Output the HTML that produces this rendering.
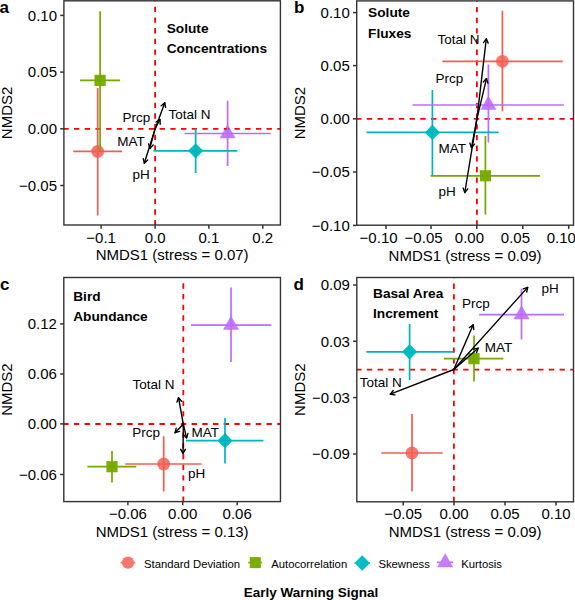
<!DOCTYPE html>
<html><head><meta charset="utf-8"><style>
html,body{margin:0;padding:0;background:#fff;}
body{width:575px;height:600px;overflow:hidden;}
svg{display:block;font-family:"Liberation Sans",sans-serif;}
text{fill:#000;}
</style></head><body>
<svg width="575" height="600" viewBox="0 0 575 600">
<rect width="575" height="600" fill="#fff"/>
<clipPath id="clipa"><rect x="63.9" y="0.8" width="216.49999999999997" height="224.2"/></clipPath>
<g clip-path="url(#clipa)">
<circle cx="97.70" cy="151.40" r="6.4" fill="#F8766D"/>
<rect x="94.50" y="74.80" width="11.2" height="11.2" fill="#7CAE00"/>
<polygon points="195.65,143.20 203.25,150.80 195.65,158.40 188.05,150.80" fill="#00BFC4"/>
<polygon points="227.60,124.20 235.65,138.15 219.55,138.15" fill="#C77CFF"/>
<line x1="155.10" y1="225.30" x2="155.10" y2="0.80" stroke="#FF0000" stroke-width="1.8" stroke-dasharray="5.33 5.33"/>
<line x1="63.30" y1="128.90" x2="280.40" y2="128.90" stroke="#FF0000" stroke-width="1.8" stroke-dasharray="5.35 5.35"/>
<line x1="97.70" y1="88.00" x2="97.70" y2="215.50" stroke="#F35D52" stroke-width="1.7" />
<line x1="100.10" y1="11.20" x2="100.10" y2="150.40" stroke="#74A700" stroke-width="1.7" />
<line x1="195.65" y1="128.60" x2="195.65" y2="172.90" stroke="#00B3BC" stroke-width="1.7" />
<line x1="227.60" y1="100.80" x2="227.60" y2="166.10" stroke="#BA6CFF" stroke-width="1.7" />
<line x1="73.20" y1="151.40" x2="122.00" y2="151.40" stroke="#F35D52" stroke-width="1.7" />
<line x1="80.00" y1="80.40" x2="120.00" y2="80.40" stroke="#74A700" stroke-width="1.7" />
<line x1="153.50" y1="150.80" x2="237.40" y2="150.80" stroke="#00B3BC" stroke-width="1.7" />
<line x1="184.50" y1="133.50" x2="270.80" y2="133.50" stroke="#BA6CFF" stroke-width="1.7" />
<line x1="155.10" y1="128.90" x2="164.80" y2="102.80" stroke="#000" stroke-width="1.4" stroke-linecap="round"/>
<polyline points="165.58,107.43 164.80,102.80 161.18,105.80" fill="none" stroke="#000" stroke-width="1.4" stroke-linejoin="round" stroke-linecap="round"/>
<line x1="155.10" y1="128.90" x2="160.00" y2="119.50" stroke="#000" stroke-width="1.4" stroke-linecap="round"/>
<polyline points="160.20,124.20 160.00,119.50 156.03,122.02" fill="none" stroke="#000" stroke-width="1.4" stroke-linejoin="round" stroke-linecap="round"/>
<line x1="155.10" y1="128.90" x2="149.80" y2="148.40" stroke="#000" stroke-width="1.4" stroke-linecap="round"/>
<polyline points="148.60,143.86 149.80,148.40 153.14,145.09" fill="none" stroke="#000" stroke-width="1.4" stroke-linejoin="round" stroke-linecap="round"/>
<line x1="155.10" y1="128.90" x2="144.30" y2="163.20" stroke="#000" stroke-width="1.4" stroke-linecap="round"/>
<polyline points="143.28,158.61 144.30,163.20 147.76,160.02" fill="none" stroke="#000" stroke-width="1.4" stroke-linejoin="round" stroke-linecap="round"/>
</g>
<text x="168.50" y="118.60" font-size="13.5" text-anchor="start" font-weight="normal" >Total N</text>
<text x="122.50" y="121.50" font-size="13.5" text-anchor="start" font-weight="normal" >Prcp</text>
<text x="117.30" y="146.00" font-size="13.5" text-anchor="start" font-weight="normal" >MAT</text>
<text x="132.60" y="178.90" font-size="13.5" text-anchor="start" font-weight="normal" >pH</text>
<text x="166.70" y="33.40" font-size="13.7" text-anchor="start" font-weight="bold" >Solute</text>
<text x="166.70" y="53.00" font-size="13.7" text-anchor="start" font-weight="bold" >Concentrations</text>
<rect x="63.9" y="0.8" width="216.49999999999997" height="224.2" fill="none" stroke="#333333" stroke-width="1.4"/>
<line x1="60.20" y1="15.40" x2="63.90" y2="15.40" stroke="#333333" stroke-width="1.5" />
<text x="57.00" y="20.70" font-size="15" text-anchor="end" font-weight="normal" >0.10</text>
<line x1="60.20" y1="72.10" x2="63.90" y2="72.10" stroke="#333333" stroke-width="1.5" />
<text x="57.00" y="77.40" font-size="15" text-anchor="end" font-weight="normal" >0.05</text>
<line x1="60.20" y1="128.80" x2="63.90" y2="128.80" stroke="#333333" stroke-width="1.5" />
<text x="57.00" y="134.10" font-size="15" text-anchor="end" font-weight="normal" >0.00</text>
<line x1="60.20" y1="185.50" x2="63.90" y2="185.50" stroke="#333333" stroke-width="1.5" />
<text x="57.00" y="190.80" font-size="15" text-anchor="end" font-weight="normal" >&#8722;0.05</text>
<line x1="101.10" y1="225.00" x2="101.10" y2="228.70" stroke="#333333" stroke-width="1.5" />
<text x="101.10" y="242.60" font-size="15" text-anchor="middle" font-weight="normal" >&#8722;0.1</text>
<line x1="155.10" y1="225.00" x2="155.10" y2="228.70" stroke="#333333" stroke-width="1.5" />
<text x="155.10" y="242.60" font-size="15" text-anchor="middle" font-weight="normal" >0.0</text>
<line x1="208.90" y1="225.00" x2="208.90" y2="228.70" stroke="#333333" stroke-width="1.5" />
<text x="208.90" y="242.60" font-size="15" text-anchor="middle" font-weight="normal" >0.1</text>
<line x1="262.80" y1="225.00" x2="262.80" y2="228.70" stroke="#333333" stroke-width="1.5" />
<text x="262.80" y="242.60" font-size="15" text-anchor="middle" font-weight="normal" >0.2</text>
<text x="172.15" y="260.30" font-size="15" text-anchor="middle" font-weight="normal" >NMDS1 (stress = 0.07)</text>
<text x="0" y="0" font-size="15" text-anchor="middle" transform="translate(11.8,112.9) rotate(-90)">NMDS2</text>
<text x="-0.50" y="13.30" font-size="17" text-anchor="start" font-weight="bold" >a</text>
<clipPath id="clipb"><rect x="356.7" y="0.9" width="216.8" height="224.29999999999998"/></clipPath>
<g clip-path="url(#clipb)">
<circle cx="502.40" cy="61.30" r="6.4" fill="#F8766D"/>
<rect x="479.80" y="170.20" width="11.2" height="11.2" fill="#7CAE00"/>
<polygon points="432.40,124.80 440.00,132.40 432.40,140.00 424.80,132.40" fill="#00BFC4"/>
<polygon points="488.40,95.70 496.45,109.65 480.35,109.65" fill="#C77CFF"/>
<line x1="476.90" y1="225.50" x2="476.90" y2="0.90" stroke="#FF0000" stroke-width="1.8" stroke-dasharray="5.33 5.33"/>
<line x1="356.10" y1="118.80" x2="573.50" y2="118.80" stroke="#FF0000" stroke-width="1.8" stroke-dasharray="5.35 5.35"/>
<line x1="502.40" y1="10.70" x2="502.40" y2="111.30" stroke="#F35D52" stroke-width="1.7" />
<line x1="485.40" y1="136.00" x2="485.40" y2="214.60" stroke="#74A700" stroke-width="1.7" />
<line x1="432.40" y1="90.00" x2="432.40" y2="175.50" stroke="#00B3BC" stroke-width="1.7" />
<line x1="488.40" y1="64.40" x2="488.40" y2="142.60" stroke="#BA6CFF" stroke-width="1.7" />
<line x1="442.40" y1="61.30" x2="562.70" y2="61.30" stroke="#F35D52" stroke-width="1.7" />
<line x1="430.50" y1="175.80" x2="540.10" y2="175.80" stroke="#74A700" stroke-width="1.7" />
<line x1="366.50" y1="132.40" x2="498.70" y2="132.40" stroke="#00B3BC" stroke-width="1.7" />
<line x1="412.50" y1="105.00" x2="563.90" y2="105.00" stroke="#BA6CFF" stroke-width="1.7" />
<line x1="476.90" y1="118.80" x2="486.30" y2="38.80" stroke="#000" stroke-width="1.4" stroke-linecap="round"/>
<polyline points="488.16,43.12 486.30,38.80 483.49,42.57" fill="none" stroke="#000" stroke-width="1.4" stroke-linejoin="round" stroke-linecap="round"/>
<line x1="476.90" y1="118.80" x2="486.50" y2="78.60" stroke="#000" stroke-width="1.4" stroke-linecap="round"/>
<polyline points="487.84,83.10 486.50,78.60 483.27,82.01" fill="none" stroke="#000" stroke-width="1.4" stroke-linejoin="round" stroke-linecap="round"/>
<line x1="476.90" y1="118.80" x2="471.50" y2="147.70" stroke="#000" stroke-width="1.4" stroke-linecap="round"/>
<polyline points="469.94,143.27 471.50,147.70 474.56,144.13" fill="none" stroke="#000" stroke-width="1.4" stroke-linejoin="round" stroke-linecap="round"/>
<line x1="476.90" y1="118.80" x2="464.80" y2="192.50" stroke="#000" stroke-width="1.4" stroke-linecap="round"/>
<polyline points="463.14,188.10 464.80,192.50 467.78,188.86" fill="none" stroke="#000" stroke-width="1.4" stroke-linejoin="round" stroke-linecap="round"/>
</g>
<text x="437.40" y="44.20" font-size="13.5" text-anchor="start" font-weight="normal" >Total N</text>
<text x="435.50" y="83.20" font-size="13.5" text-anchor="start" font-weight="normal" >Prcp</text>
<text x="438.60" y="153.40" font-size="13.5" text-anchor="start" font-weight="normal" >MAT</text>
<text x="438.60" y="196.30" font-size="13.5" text-anchor="start" font-weight="normal" >pH</text>
<text x="368.10" y="17.10" font-size="13.7" text-anchor="start" font-weight="bold" >Solute</text>
<text x="368.10" y="37.60" font-size="13.7" text-anchor="start" font-weight="bold" >Fluxes</text>
<rect x="356.7" y="0.9" width="216.8" height="224.29999999999998" fill="none" stroke="#333333" stroke-width="1.4"/>
<line x1="353.00" y1="12.60" x2="356.70" y2="12.60" stroke="#333333" stroke-width="1.5" />
<text x="349.80" y="17.90" font-size="15" text-anchor="end" font-weight="normal" >0.10</text>
<line x1="353.00" y1="65.60" x2="356.70" y2="65.60" stroke="#333333" stroke-width="1.5" />
<text x="349.80" y="70.90" font-size="15" text-anchor="end" font-weight="normal" >0.05</text>
<line x1="353.00" y1="118.80" x2="356.70" y2="118.80" stroke="#333333" stroke-width="1.5" />
<text x="349.80" y="124.10" font-size="15" text-anchor="end" font-weight="normal" >0.00</text>
<line x1="353.00" y1="172.00" x2="356.70" y2="172.00" stroke="#333333" stroke-width="1.5" />
<text x="349.80" y="177.30" font-size="15" text-anchor="end" font-weight="normal" >&#8722;0.05</text>
<line x1="353.00" y1="225.40" x2="356.70" y2="225.40" stroke="#333333" stroke-width="1.5" />
<text x="349.80" y="230.70" font-size="15" text-anchor="end" font-weight="normal" >&#8722;0.10</text>
<line x1="386.00" y1="225.20" x2="386.00" y2="228.90" stroke="#333333" stroke-width="1.5" />
<text x="378.60" y="242.80" font-size="15" text-anchor="middle" font-weight="normal" >&#8722;0.10</text>
<line x1="431.00" y1="225.20" x2="431.00" y2="228.90" stroke="#333333" stroke-width="1.5" />
<text x="423.60" y="242.80" font-size="15" text-anchor="middle" font-weight="normal" >&#8722;0.05</text>
<line x1="476.80" y1="225.20" x2="476.80" y2="228.90" stroke="#333333" stroke-width="1.5" />
<text x="469.40" y="242.80" font-size="15" text-anchor="middle" font-weight="normal" >0.00</text>
<line x1="522.80" y1="225.20" x2="522.80" y2="228.90" stroke="#333333" stroke-width="1.5" />
<text x="515.40" y="242.80" font-size="15" text-anchor="middle" font-weight="normal" >0.05</text>
<line x1="568.70" y1="225.20" x2="568.70" y2="228.90" stroke="#333333" stroke-width="1.5" />
<text x="561.30" y="242.80" font-size="15" text-anchor="middle" font-weight="normal" >0.10</text>
<text x="465.10" y="260.50" font-size="15" text-anchor="middle" font-weight="normal" >NMDS1 (stress = 0.09)</text>
<text x="0" y="0" font-size="15" text-anchor="middle" transform="translate(305,113.05) rotate(-90)">NMDS2</text>
<text x="294.00" y="13.20" font-size="17" text-anchor="start" font-weight="bold" >b</text>
<clipPath id="clipc"><rect x="63.8" y="277.5" width="216.64999999999998" height="224.10000000000002"/></clipPath>
<g clip-path="url(#clipc)">
<circle cx="163.70" cy="464.00" r="6.4" fill="#F8766D"/>
<rect x="106.40" y="461.10" width="11.2" height="11.2" fill="#7CAE00"/>
<polygon points="225.00,433.10 232.60,440.70 225.00,448.30 217.40,440.70" fill="#00BFC4"/>
<polygon points="231.00,315.80 239.05,329.75 222.95,329.75" fill="#C77CFF"/>
<line x1="183.30" y1="501.90" x2="183.30" y2="277.50" stroke="#FF0000" stroke-width="1.8" stroke-dasharray="5.33 5.33"/>
<line x1="63.20" y1="424.00" x2="280.45" y2="424.00" stroke="#FF0000" stroke-width="1.8" stroke-dasharray="5.35 5.35"/>
<line x1="163.70" y1="436.20" x2="163.70" y2="491.40" stroke="#F35D52" stroke-width="1.7" />
<line x1="112.00" y1="451.00" x2="112.00" y2="482.40" stroke="#74A700" stroke-width="1.7" />
<line x1="225.00" y1="417.80" x2="225.00" y2="463.60" stroke="#00B3BC" stroke-width="1.7" />
<line x1="231.00" y1="287.50" x2="231.00" y2="361.90" stroke="#BA6CFF" stroke-width="1.7" />
<line x1="125.30" y1="464.00" x2="201.60" y2="464.00" stroke="#F35D52" stroke-width="1.7" />
<line x1="87.40" y1="466.70" x2="136.30" y2="466.70" stroke="#74A700" stroke-width="1.7" />
<line x1="186.00" y1="440.70" x2="263.40" y2="440.70" stroke="#00B3BC" stroke-width="1.7" />
<line x1="191.00" y1="325.10" x2="271.30" y2="325.10" stroke="#BA6CFF" stroke-width="1.7" />
<line x1="183.30" y1="424.10" x2="178.50" y2="397.70" stroke="#000" stroke-width="1.4" stroke-linecap="round"/>
<polyline points="181.54,401.28 178.50,397.70 176.92,402.13" fill="none" stroke="#000" stroke-width="1.4" stroke-linejoin="round" stroke-linecap="round"/>
<line x1="183.30" y1="424.10" x2="175.10" y2="432.70" stroke="#000" stroke-width="1.4" stroke-linecap="round"/>
<polyline points="176.21,428.13 175.10,432.70 179.61,431.38" fill="none" stroke="#000" stroke-width="1.4" stroke-linejoin="round" stroke-linecap="round"/>
<line x1="183.30" y1="424.10" x2="186.60" y2="437.90" stroke="#000" stroke-width="1.4" stroke-linecap="round"/>
<polyline points="183.37,434.49 186.60,437.90 187.94,433.39" fill="none" stroke="#000" stroke-width="1.4" stroke-linejoin="round" stroke-linecap="round"/>
<line x1="183.30" y1="424.10" x2="183.00" y2="453.40" stroke="#000" stroke-width="1.4" stroke-linecap="round"/>
<polyline points="180.69,449.31 183.00,453.40 185.39,449.35" fill="none" stroke="#000" stroke-width="1.4" stroke-linejoin="round" stroke-linecap="round"/>
</g>
<text x="132.50" y="388.70" font-size="13.5" text-anchor="start" font-weight="normal" >Total N</text>
<text x="132.20" y="436.80" font-size="13.5" text-anchor="start" font-weight="normal" >Prcp</text>
<text x="191.60" y="436.80" font-size="13.5" text-anchor="start" font-weight="normal" >MAT</text>
<text x="188.00" y="477.80" font-size="13.5" text-anchor="start" font-weight="normal" >pH</text>
<text x="73.20" y="300.80" font-size="13.7" text-anchor="start" font-weight="bold" >Bird</text>
<text x="73.20" y="320.60" font-size="13.7" text-anchor="start" font-weight="bold" >Abundance</text>
<rect x="63.8" y="277.5" width="216.64999999999998" height="224.10000000000002" fill="none" stroke="#333333" stroke-width="1.4"/>
<line x1="60.10" y1="323.90" x2="63.80" y2="323.90" stroke="#333333" stroke-width="1.5" />
<text x="56.90" y="329.20" font-size="15" text-anchor="end" font-weight="normal" >0.12</text>
<line x1="60.10" y1="374.00" x2="63.80" y2="374.00" stroke="#333333" stroke-width="1.5" />
<text x="56.90" y="379.30" font-size="15" text-anchor="end" font-weight="normal" >0.06</text>
<line x1="60.10" y1="423.90" x2="63.80" y2="423.90" stroke="#333333" stroke-width="1.5" />
<text x="56.90" y="429.20" font-size="15" text-anchor="end" font-weight="normal" >0.00</text>
<line x1="60.10" y1="474.50" x2="63.80" y2="474.50" stroke="#333333" stroke-width="1.5" />
<text x="56.90" y="479.80" font-size="15" text-anchor="end" font-weight="normal" >&#8722;0.06</text>
<line x1="127.90" y1="501.60" x2="127.90" y2="505.30" stroke="#333333" stroke-width="1.5" />
<text x="127.90" y="519.20" font-size="15" text-anchor="middle" font-weight="normal" >&#8722;0.06</text>
<line x1="182.70" y1="501.60" x2="182.70" y2="505.30" stroke="#333333" stroke-width="1.5" />
<text x="182.70" y="519.20" font-size="15" text-anchor="middle" font-weight="normal" >0.00</text>
<line x1="237.20" y1="501.60" x2="237.20" y2="505.30" stroke="#333333" stroke-width="1.5" />
<text x="237.20" y="519.20" font-size="15" text-anchor="middle" font-weight="normal" >0.06</text>
<text x="172.12" y="536.90" font-size="15" text-anchor="middle" font-weight="normal" >NMDS1 (stress = 0.13)</text>
<text x="0" y="0" font-size="15" text-anchor="middle" transform="translate(11.8,389.55) rotate(-90)">NMDS2</text>
<text x="0.00" y="289.80" font-size="17" text-anchor="start" font-weight="bold" >c</text>
<clipPath id="clipd"><rect x="356.8" y="277.5" width="216.7" height="224.3"/></clipPath>
<g clip-path="url(#clipd)">
<circle cx="412.00" cy="453.00" r="6.4" fill="#F8766D"/>
<rect x="468.40" y="353.10" width="11.2" height="11.2" fill="#7CAE00"/>
<polygon points="409.60,344.20 417.20,351.80 409.60,359.40 402.00,351.80" fill="#00BFC4"/>
<polygon points="521.50,305.30 529.55,319.25 513.45,319.25" fill="#C77CFF"/>
<line x1="453.90" y1="502.10" x2="453.90" y2="277.50" stroke="#FF0000" stroke-width="1.8" stroke-dasharray="5.33 5.33"/>
<line x1="356.20" y1="369.60" x2="573.50" y2="369.60" stroke="#FF0000" stroke-width="1.8" stroke-dasharray="5.35 5.35"/>
<line x1="412.00" y1="413.90" x2="412.00" y2="491.40" stroke="#F35D52" stroke-width="1.7" />
<line x1="474.00" y1="335.60" x2="474.00" y2="381.40" stroke="#74A700" stroke-width="1.7" />
<line x1="409.60" y1="323.90" x2="409.60" y2="379.90" stroke="#00B3BC" stroke-width="1.7" />
<line x1="521.50" y1="288.70" x2="521.50" y2="339.60" stroke="#BA6CFF" stroke-width="1.7" />
<line x1="381.30" y1="453.00" x2="442.70" y2="453.00" stroke="#F35D52" stroke-width="1.7" />
<line x1="443.90" y1="358.70" x2="503.40" y2="358.70" stroke="#74A700" stroke-width="1.7" />
<line x1="366.40" y1="351.80" x2="453.70" y2="351.80" stroke="#00B3BC" stroke-width="1.7" />
<line x1="479.10" y1="314.60" x2="564.00" y2="314.60" stroke="#BA6CFF" stroke-width="1.7" />
<line x1="453.80" y1="369.50" x2="390.30" y2="394.20" stroke="#000" stroke-width="1.4" stroke-linecap="round"/>
<polyline points="393.24,390.53 390.30,394.20 394.95,394.91" fill="none" stroke="#000" stroke-width="1.4" stroke-linejoin="round" stroke-linecap="round"/>
<line x1="453.80" y1="369.50" x2="473.20" y2="324.80" stroke="#000" stroke-width="1.4" stroke-linecap="round"/>
<polyline points="473.74,329.47 473.20,324.80 469.42,327.60" fill="none" stroke="#000" stroke-width="1.4" stroke-linejoin="round" stroke-linecap="round"/>
<line x1="453.80" y1="369.50" x2="478.10" y2="348.20" stroke="#000" stroke-width="1.4" stroke-linecap="round"/>
<polyline points="476.59,352.65 478.10,348.20 473.49,349.12" fill="none" stroke="#000" stroke-width="1.4" stroke-linejoin="round" stroke-linecap="round"/>
<line x1="453.80" y1="369.50" x2="527.70" y2="287.40" stroke="#000" stroke-width="1.4" stroke-linecap="round"/>
<polyline points="526.72,292.00 527.70,287.40 523.23,288.85" fill="none" stroke="#000" stroke-width="1.4" stroke-linejoin="round" stroke-linecap="round"/>
</g>
<text x="359.80" y="387.30" font-size="13.5" text-anchor="start" font-weight="normal" >Total N</text>
<text x="462.10" y="307.90" font-size="13.5" text-anchor="start" font-weight="normal" >Prcp</text>
<text x="484.80" y="351.90" font-size="13.5" text-anchor="start" font-weight="normal" >MAT</text>
<text x="541.60" y="292.80" font-size="13.5" text-anchor="start" font-weight="normal" >pH</text>
<text x="373.00" y="298.00" font-size="13.7" text-anchor="start" font-weight="bold" >Basal Area</text>
<text x="373.00" y="318.30" font-size="13.7" text-anchor="start" font-weight="bold" >Increment</text>
<rect x="356.8" y="277.5" width="216.7" height="224.3" fill="none" stroke="#333333" stroke-width="1.4"/>
<line x1="353.10" y1="285.00" x2="356.80" y2="285.00" stroke="#333333" stroke-width="1.5" />
<text x="349.90" y="290.30" font-size="15" text-anchor="end" font-weight="normal" >0.09</text>
<line x1="353.10" y1="341.20" x2="356.80" y2="341.20" stroke="#333333" stroke-width="1.5" />
<text x="349.90" y="346.50" font-size="15" text-anchor="end" font-weight="normal" >0.03</text>
<line x1="353.10" y1="397.60" x2="356.80" y2="397.60" stroke="#333333" stroke-width="1.5" />
<text x="349.90" y="402.90" font-size="15" text-anchor="end" font-weight="normal" >&#8722;0.03</text>
<line x1="353.10" y1="454.00" x2="356.80" y2="454.00" stroke="#333333" stroke-width="1.5" />
<text x="349.90" y="459.30" font-size="15" text-anchor="end" font-weight="normal" >&#8722;0.09</text>
<line x1="403.20" y1="501.80" x2="403.20" y2="505.50" stroke="#333333" stroke-width="1.5" />
<text x="403.20" y="519.40" font-size="15" text-anchor="middle" font-weight="normal" >&#8722;0.05</text>
<line x1="454.00" y1="501.80" x2="454.00" y2="505.50" stroke="#333333" stroke-width="1.5" />
<text x="454.00" y="519.40" font-size="15" text-anchor="middle" font-weight="normal" >0.00</text>
<line x1="505.00" y1="501.80" x2="505.00" y2="505.50" stroke="#333333" stroke-width="1.5" />
<text x="505.00" y="519.40" font-size="15" text-anchor="middle" font-weight="normal" >0.05</text>
<line x1="556.00" y1="501.80" x2="556.00" y2="505.50" stroke="#333333" stroke-width="1.5" />
<text x="556.00" y="519.40" font-size="15" text-anchor="middle" font-weight="normal" >0.10</text>
<text x="465.15" y="537.10" font-size="15" text-anchor="middle" font-weight="normal" >NMDS1 (stress = 0.09)</text>
<text x="0" y="0" font-size="15" text-anchor="middle" transform="translate(305,389.65) rotate(-90)">NMDS2</text>
<text x="293.40" y="289.60" font-size="17" text-anchor="start" font-weight="bold" >d</text>
<line x1="120.60" y1="562.60" x2="135.20" y2="562.60" stroke="#F35D52" stroke-width="1.7" />
<circle cx="128.00" cy="562.60" r="6.2" fill="#F8766D"/>
<text x="144.00" y="568.10" font-size="11.3" text-anchor="start" font-weight="normal" >Standard Deviation</text>
<line x1="248.30" y1="562.60" x2="262.20" y2="562.60" stroke="#74A700" stroke-width="1.7" />
<rect x="249.80" y="557.10" width="11" height="11" fill="#7CAE00"/>
<text x="271.20" y="568.10" font-size="11.3" text-anchor="start" font-weight="normal" >Autocorrelation</text>
<line x1="354.50" y1="563.00" x2="370.00" y2="563.00" stroke="#00B3BC" stroke-width="1.7" />
<polygon points="362.20,555.30 369.90,563.00 362.20,570.70 354.50,563.00" fill="#00BFC4"/>
<text x="378.40" y="568.10" font-size="11.3" text-anchor="start" font-weight="normal" >Skewness</text>
<line x1="436.90" y1="562.40" x2="453.00" y2="562.40" stroke="#BA6CFF" stroke-width="1.7" />
<polygon points="445.20,553.30 453.25,567.25 437.15,567.25" fill="#C77CFF"/>
<text x="461.20" y="568.10" font-size="11.3" text-anchor="start" font-weight="normal" >Kurtosis</text>
<text x="243.70" y="596.90" font-size="13.5" text-anchor="start" font-weight="bold" >Early Warning Signal</text>
</svg>
</body></html>
